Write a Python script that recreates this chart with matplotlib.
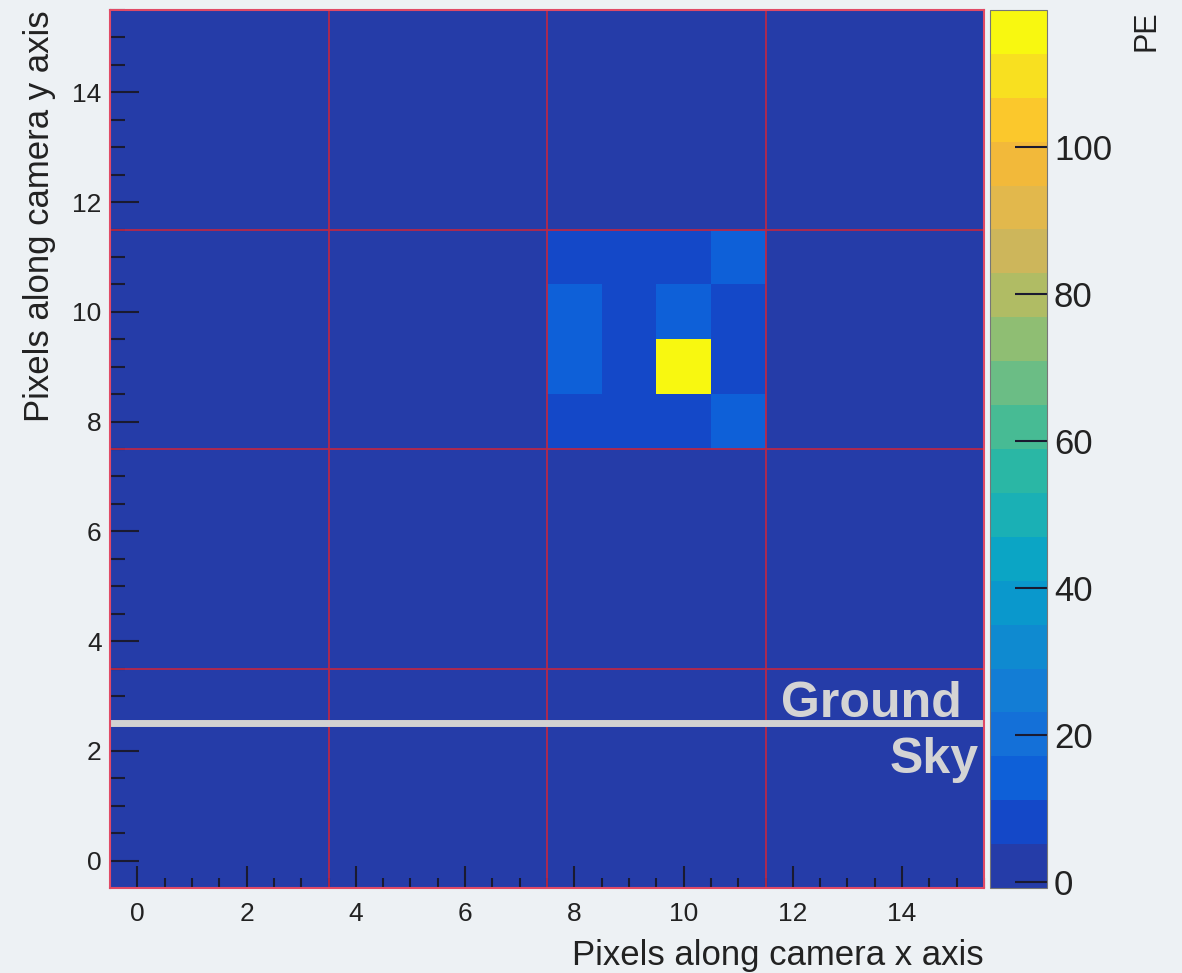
import matplotlib
matplotlib.use("Agg")
import matplotlib.pyplot as plt
import numpy as np
from matplotlib.colors import ListedColormap, Normalize

plt.rcParams['font.family'] = ['Liberation Sans', 'DejaVu Sans']

# camera image: 16 x 16 pixels, values in PE
n_pix = 16
background_pe = 1.0
# (x, y, PE) for the pixels that stand out
hot_x = [8, 9, 10, 11, 8, 9, 10, 11, 8, 9, 10, 11, 8, 9, 10, 11]
hot_y = [11, 11, 11, 11, 10, 10, 10, 10, 9, 9, 9, 9, 8, 8, 8, 8]
hot_pe = [8.5, 8.5, 8.5, 14.0,
          14.0, 8.5, 14.0, 8.5,
          14.0, 8.5, 118.5, 8.5,
          8.5, 8.5, 8.5, 14.0]

z_min, z_max = -0.8, 118.6
cbar_ticks = [0, 20, 40, 60, 80, 100]
module_edges = [3.5, 7.5, 11.5]
horizon_y = 2.5

# ROOT kBird palette, 20 contour levels
bird = ['#253ca8', '#1448c8', '#0e60d8', '#1470d8', '#137dd5',
        '#0f8ad0', '#0a98cc', '#0ba5c5', '#1ab0b5', '#2ab7a5',
        '#47bb94', '#6bbd85', '#8fbe73', '#b0bc64', '#cdb65b',
        '#e2b84c', '#f2b93a', '#fbc82c', '#f8e020', '#f8f810']

img = np.full((n_pix, n_pix), background_pe)
for x, y, v in zip(hot_x, hot_y, hot_pe):
    img[y, x] = v

bg = '#edf1f4'
fig = plt.figure(figsize=(11.82, 9.73), dpi=100, facecolor=bg)
ax = fig.add_axes([110 / 1182, 1 - 888 / 973, 874 / 1182, 878 / 973])
cax = fig.add_axes([990 / 1182, 1 - 888 / 973, 57 / 1182, 878 / 973])

edges = np.arange(n_pix + 1) - 0.5
mesh = ax.pcolormesh(edges, edges, img, cmap=ListedColormap(bird),
                     norm=Normalize(z_min, z_max))

for e in module_edges:
    ax.axvline(e, color='#b82848', lw=1.3)
    ax.axhline(e, color='#b82848', lw=1.3)
ax.axhline(horizon_y, color='#d2d2d2', lw=5)

ax.text(15.1, 2.62, 'Ground', color='#d4d4d4', fontsize=36,
        fontweight='bold', ha='right', va='baseline')
ax.text(15.4, 1.6, 'Sky', color='#d4d4d4', fontsize=36,
        fontweight='bold', ha='right', va='baseline')

ax.set_xlim(-0.5, 15.5)
ax.set_ylim(-0.5, 15.5)
ax.set_xticks(np.arange(0, 15, 2))
ax.set_yticks(np.arange(0, 15, 2))
ax.set_xticks(np.arange(0, 15.6, 0.5), minor=True)
ax.set_yticks(np.arange(0, 15.6, 0.5), minor=True)
ax.tick_params(axis='x', which='major', direction='in', length=16, width=1.5,
               color='#1a1a30', labelsize=19, pad=10, labelcolor='#222222')
ax.tick_params(axis='x', which='minor', direction='in', length=7, width=1.5,
               color='#1a1a30')
ax.tick_params(axis='y', which='major', direction='in', length=21, width=1.5,
               color='#1a1a30', labelsize=19, pad=6, labelcolor='#222222')
ax.tick_params(axis='y', which='minor', direction='in', length=11, width=1.5,
               color='#1a1a30')
for s in ax.spines.values():
    s.set_color('#e04a66')
    s.set_linewidth(1.5)

ax.set_xlabel('Pixels along camera x axis', fontsize=25, color='#222222',
              ha='right', va='baseline')
ax.xaxis.set_label_coords(1.0, -0.0877)
ax.set_ylabel('Pixels along camera y axis', fontsize=25, color='#222222',
              loc='top')
ax.yaxis.set_label_coords(-0.062, 1.0)

cb = fig.colorbar(mesh, cax=cax, ticks=cbar_ticks)
cb.outline.set_linewidth(0.8)
cb.outline.set_edgecolor('#777777')
cax.tick_params(direction='in', length=23, width=1.5, color='#1a1a30',
                labelsize=25, pad=5, labelcolor='#222222')
cb.set_label('PE', fontsize=22, color='#222222', loc='top')
cax.yaxis.set_label_coords(2.48, 1.0)

fig.savefig('out.png', dpi=100, facecolor=bg)
